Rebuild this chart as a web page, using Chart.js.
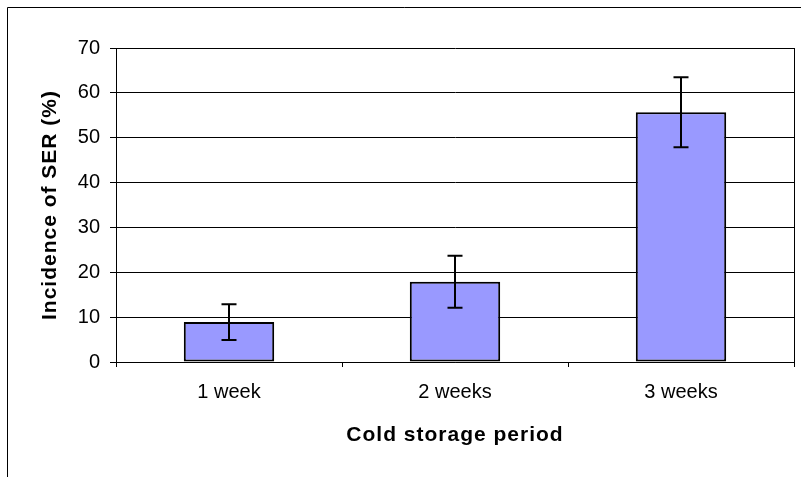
<!DOCTYPE html>
<html>
<head>
<meta charset="utf-8">
<script src="https://cdn.jsdelivr.net/npm/chart.js@4"></script>
<style>
  html, body { margin: 0; padding: 0; background: #fff; overflow: hidden; }
  #wrap { position: relative; width: 801px; height: 477px; }
  canvas { display: block; }
</style>
</head>
<body>
<div id="wrap"><canvas id="c" width="801" height="477"></canvas></div>
<script>
const categories = ['1 week', '2 weeks', '3 weeks'];
const incidence = [8.9, 17.9, 55.7];
const errorValues = [4.0, 5.8, 7.8];
const yMin = 0;
const yMax = 70;
const yStep = 10;
const xTitle = 'Cold storage period';
const yTitle = 'Incidence of SER (%)';

const FONT = '"Liberation Sans", Arial, sans-serif';

const framePlugin = {
  id: 'frame',
  beforeDraw(chart) {
    const ctx = chart.ctx;
    ctx.save();
    ctx.strokeStyle = '#000';
    ctx.lineWidth = 1;
    ctx.beginPath();
    ctx.moveTo(7.5, 1000);
    ctx.lineTo(7.5, 7.5);
    ctx.lineTo(1000, 7.5);
    ctx.stroke();
    ctx.restore();
    try { ctx.letterSpacing = '1px'; } catch (e) {}
  },
  afterDatasetsDraw(chart) {
    const ctx = chart.ctx;
    const a = chart.chartArea;
    ctx.save();
    ctx.strokeStyle = '#000';
    ctx.lineWidth = 1;
    ctx.beginPath();
    ctx.moveTo(Math.round(a.right) + 0.5, a.top);
    ctx.lineTo(Math.round(a.right) + 0.5, a.bottom);
    ctx.stroke();
    // error bars
    const meta = chart.getDatasetMeta(0);
    const ys = chart.scales.y;
    ctx.lineWidth = 2;
    meta.data.forEach((bar, i) => {
      const v = incidence[i];
      const e = errorValues[i];
      const x = Math.round(bar.x);
      const yt = ys.getPixelForValue(v + e);
      const yb = ys.getPixelForValue(v - e);
      ctx.beginPath();
      ctx.moveTo(x, yt); ctx.lineTo(x, yb);
      ctx.moveTo(x - 7.5, yt); ctx.lineTo(x + 7.5, yt);
      ctx.moveTo(x - 7.5, yb); ctx.lineTo(x + 7.5, yb);
      ctx.stroke();
    });
    ctx.restore();
    try { ctx.letterSpacing = '0px'; } catch (e) {}
  },
  afterDraw(chart) {
    try { chart.ctx.letterSpacing = '0px'; } catch (e) {}
  }
};

new Chart(document.getElementById('c'), {
  type: 'bar',
  data: {
    labels: categories,
    datasets: [{
      data: incidence,
      backgroundColor: '#9999FF',
      borderColor: '#000',
      borderWidth: 2,
      borderSkipped: false,
      categoryPercentage: 1.0,
      barPercentage: 0.4
    }]
  },
  options: {
    responsive: false,
    animation: false,
    events: [],
    layout: { padding: { top: 48, right: 7, left: 0, bottom: 0 } },
    plugins: {
      legend: { display: false },
      tooltip: { enabled: false },
      title: { display: false }
    },
    scales: {
      x: {
        grid: {
          display: true,
          drawOnChartArea: false,
          drawTicks: true,
          offset: true,
          tickLength: 5,
          color: '#000',
          lineWidth: 1
        },
        border: { display: true, color: '#000', width: 1 },
        ticks: {
          color: '#000',
          font: { family: FONT, size: 20 },
          padding: 13,
          maxRotation: 0,
          z: 1
        },
        title: {
          display: true,
          text: xTitle,
          color: '#000',
          font: { family: FONT, size: 21, weight: 'bold' },
          padding: { top: 0, bottom: 29 }
        },
        afterFit(scale) { scale.height = 115; }
      },
      y: {
        min: yMin,
        max: yMax,
        grid: {
          color: '#000',
          lineWidth: 1,
          tickLength: 6,
          drawTicks: true
        },
        border: { display: true, color: '#000', width: 1 },
        ticks: {
          stepSize: yStep,
          color: '#000',
          font: { family: FONT, size: 20 },
          padding: 10,
          z: 1
        },
        title: {
          display: true,
          text: yTitle,
          color: '#000',
          font: { family: FONT, size: 21, weight: 'bold' },
          padding: { top: 38, bottom: 0 }
        },
        afterFit(scale) { scale.width = 116; }
      }
    }
  },
  plugins: [framePlugin]
});
</script>
</body>
</html>
